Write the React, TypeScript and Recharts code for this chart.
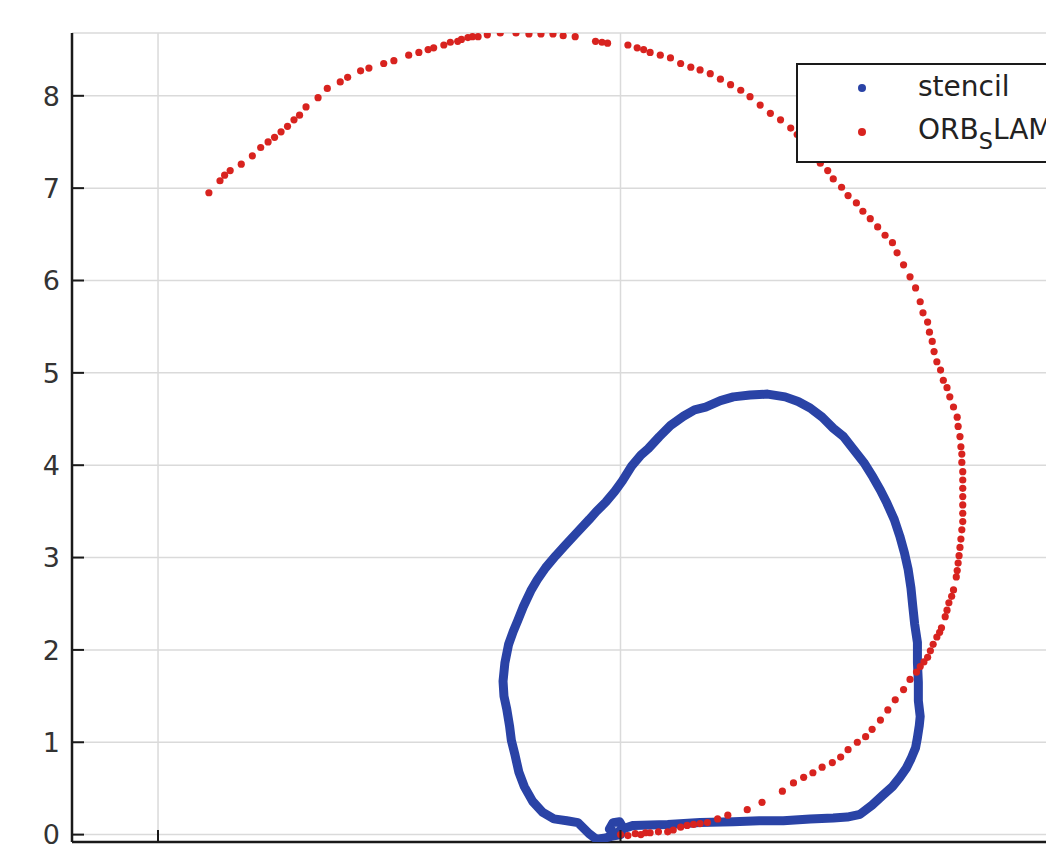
import { CartesianGrid, Scatter, ScatterChart, XAxis, YAxis } from "recharts";

const STENCIL_BLUE = "#2a43a6";
const ORB_RED = "#d8231f";
const FONT = "'DejaVu Sans', sans-serif";

const yTicks = [0, 1, 2, 3, 4, 5, 6, 7, 8];
const xTicks = [-5, 0, 5];

// stencil trajectory, drawn as one closed path in order
const stencilPath: [number, number][] = [
  [0.0, 0.0], [0.03, 0.07], [-0.01, 0.14], [-0.08, 0.13], [-0.12, 0.06], [-0.07, 0.0],
  [0.02, 0.06], [0.14, 0.1], [0.51, 0.11], [0.86, 0.13], [1.22, 0.14], [1.5, 0.15],
  [1.76, 0.15], [2.05, 0.17], [2.3, 0.18], [2.45, 0.19], [2.59, 0.22], [2.72, 0.32],
  [2.84, 0.43], [2.94, 0.52], [3.02, 0.62], [3.09, 0.72], [3.14, 0.82], [3.19, 0.94],
  [3.21, 1.05], [3.23, 1.18], [3.24, 1.28], [3.22, 1.45], [3.22, 1.65], [3.21, 1.86],
  [3.21, 2.08], [3.18, 2.28], [3.16, 2.47], [3.14, 2.67], [3.11, 2.87], [3.07, 3.05],
  [3.02, 3.23], [2.96, 3.41], [2.88, 3.59], [2.81, 3.73], [2.73, 3.87], [2.63, 4.03],
  [2.52, 4.17], [2.41, 4.31], [2.3, 4.4], [2.18, 4.52], [2.05, 4.62], [1.92, 4.69],
  [1.78, 4.74], [1.59, 4.77], [1.4, 4.76], [1.22, 4.74], [1.08, 4.7], [0.92, 4.63],
  [0.8, 4.6], [0.68, 4.53], [0.54, 4.43], [0.42, 4.31], [0.3, 4.18], [0.22, 4.11],
  [0.12, 3.99], [0.02, 3.83], [-0.06, 3.72], [-0.16, 3.6], [-0.26, 3.5], [-0.34, 3.41],
  [-0.49, 3.25], [-0.6, 3.13], [-0.7, 3.02], [-0.81, 2.89], [-0.9, 2.76], [-0.97, 2.64],
  [-1.05, 2.47], [-1.11, 2.32], [-1.16, 2.2], [-1.21, 2.06], [-1.25, 1.86], [-1.27, 1.66],
  [-1.26, 1.5], [-1.23, 1.36], [-1.2, 1.18], [-1.18, 1.02], [-1.14, 0.86], [-1.1, 0.68],
  [-1.04, 0.52], [-0.95, 0.36], [-0.84, 0.24], [-0.72, 0.17], [-0.58, 0.15], [-0.46, 0.13],
  [-0.4, 0.07], [-0.34, 0.01], [-0.26, -0.05], [-0.18, -0.04], [-0.1, -0.02], [0.0, 0.0],
];

// ORB_SLAM positions, one dot each
const orbSlamPoints: [number, number][] = [
  [0.0, 0.0], [0.08, -0.01], [0.16, 0.01], [0.22, 0.0], [0.27, 0.02], [0.32, 0.02],
  [0.41, 0.03], [0.51, 0.03], [0.57, 0.05], [0.65, 0.08], [0.72, 0.1], [0.79, 0.11],
  [0.86, 0.12], [0.94, 0.13], [1.05, 0.17], [1.16, 0.21], [1.37, 0.27], [1.53, 0.35],
  [1.75, 0.47], [1.87, 0.56], [1.98, 0.62], [2.08, 0.67], [2.18, 0.73], [2.29, 0.78],
  [2.38, 0.84], [2.46, 0.92], [2.56, 1.0], [2.65, 1.06], [2.72, 1.14], [2.81, 1.24],
  [2.89, 1.35], [2.97, 1.46], [3.06, 1.57], [3.13, 1.68], [3.2, 1.76], [3.24, 1.82],
  [3.28, 1.87], [3.32, 1.92], [3.35, 1.99], [3.38, 2.06], [3.42, 2.14], [3.45, 2.19],
  [3.47, 2.24], [3.51, 2.36], [3.53, 2.43], [3.55, 2.51], [3.58, 2.58], [3.6, 2.65],
  [3.63, 2.79], [3.64, 2.86], [3.65, 2.94], [3.66, 3.02], [3.67, 3.11], [3.68, 3.2],
  [3.69, 3.3], [3.7, 3.39], [3.7, 3.48], [3.7, 3.57], [3.7, 3.66], [3.7, 3.75],
  [3.7, 3.84], [3.7, 3.93], [3.69, 4.03], [3.69, 4.12], [3.68, 4.2], [3.67, 4.31],
  [3.65, 4.42], [3.64, 4.52], [3.6, 4.63], [3.56, 4.74], [3.53, 4.84], [3.49, 4.92],
  [3.46, 5.03], [3.42, 5.12], [3.39, 5.23], [3.37, 5.34], [3.34, 5.44], [3.32, 5.55],
  [3.27, 5.65], [3.24, 5.77], [3.19, 5.92], [3.13, 6.04], [3.06, 6.17], [2.99, 6.3],
  [2.94, 6.41], [2.86, 6.49], [2.78, 6.58], [2.7, 6.67], [2.62, 6.75], [2.55, 6.84],
  [2.46, 6.92], [2.39, 7.01], [2.3, 7.1], [2.24, 7.19], [2.16, 7.27], [2.07, 7.37],
  [2.0, 7.47], [1.91, 7.58], [1.84, 7.65], [1.73, 7.74], [1.62, 7.81], [1.51, 7.9],
  [1.4, 7.99], [1.3, 8.06], [1.19, 8.12], [1.08, 8.18], [0.97, 8.24], [0.86, 8.28],
  [0.76, 8.31], [0.65, 8.35], [0.54, 8.41], [0.43, 8.44], [0.32, 8.47], [0.25, 8.5],
  [0.18, 8.52], [0.08, 8.55], [-0.14, 8.57], [-0.2, 8.58], [-0.27, 8.59],
  [-0.49, 8.64], [-0.62, 8.65], [-0.73, 8.67], [-0.86, 8.67], [-0.99, 8.67], [-1.13, 8.68],
  [-1.3, 8.68], [-1.44, 8.66], [-1.54, 8.64], [-1.6, 8.64], [-1.65, 8.63], [-1.72, 8.61],
  [-1.76, 8.59], [-1.84, 8.58], [-1.91, 8.55], [-2.02, 8.52], [-2.08, 8.5], [-2.18, 8.47],
  [-2.29, 8.44], [-2.45, 8.38], [-2.56, 8.35], [-2.72, 8.3], [-2.81, 8.27], [-2.95, 8.2],
  [-3.03, 8.15], [-3.17, 8.08], [-3.27, 7.98], [-3.4, 7.88], [-3.47, 7.79], [-3.53, 7.74],
  [-3.6, 7.67], [-3.67, 7.61], [-3.74, 7.55], [-3.81, 7.5], [-3.89, 7.44], [-3.98, 7.35],
  [-4.1, 7.26], [-4.22, 7.19], [-4.28, 7.14], [-4.33, 7.08], [-4.45, 6.95],
];

const stencilData = stencilPath.map(([x, y]) => ({ x, y }));
const orbSlamData = orbSlamPoints.map(([x, y]) => ({ x, y }));

const NoMarker = () => <g />;

function OrbDot({ cx, cy }: any) {
  return <circle cx={cx} cy={cy} r={3.6} fill={ORB_RED} />;
}

function YTick({ x, y, payload }: any) {
  return (
    <g>
      <line x1={x + 12} x2={x + 24} y1={y} y2={y} stroke="#1a1a1a" strokeWidth={2} />
      <text x={x} y={y} dy="0.36em" textAnchor="end" fontSize={27} fontFamily={FONT} fill="#333">
        {payload.value}
      </text>
    </g>
  );
}

// x labels sit below the visible area in the reference, so only the tick marks are drawn
function XTick({ x, y }: any) {
  return <line x1={x} x2={x} y1={y - 12} y2={y - 24} stroke="#1a1a1a" strokeWidth={2} />;
}

function LegendBox() {
  const dot = (color: string, top: number) => (
    <span
      style={{
        position: "absolute",
        left: 60,
        top,
        width: 8,
        height: 8,
        borderRadius: "50%",
        background: color,
      }}
    />
  );
  return (
    <div
      style={{
        position: "absolute",
        left: 796,
        top: 63,
        width: 320,
        height: 100,
        boxSizing: "border-box",
        border: "2.5px solid #1a1a1a",
        background: "#fff",
        fontFamily: FONT,
        fontSize: 28,
        color: "#222",
      }}
    >
      {dot(STENCIL_BLUE, 19)}
      <span style={{ position: "absolute", left: 120, top: 6, lineHeight: "32px" }}>stencil</span>
      {dot(ORB_RED, 63)}
      <span style={{ position: "absolute", left: 120, top: 49, lineHeight: "32px", whiteSpace: "nowrap" }}>
        ORB
        <sub style={{ fontSize: "0.8em", verticalAlign: "-0.45em", lineHeight: 0 }}>S</sub>
        LAM
      </span>
    </div>
  );
}

export default function App() {
  return (
    <div
      style={{
        position: "fixed",
        left: 0,
        top: 0,
        width: 1046,
        height: 851,
        overflow: "hidden",
        background: "#fff",
      }}
    >
      <ScatterChart width={1100} height={900} margin={{ top: 33, right: 17, bottom: 18, left: 0 }}>
        <CartesianGrid stroke="#dadada" strokeWidth={1.5} />
        <XAxis
          type="number"
          dataKey="x"
          domain={[-5.93, 5]}
          ticks={xTicks}
          height={40}
          tickSize={0}
          tickMargin={12}
          tickLine={false}
          tick={<XTick />}
          axisLine={{ stroke: "#1a1a1a", strokeWidth: 2.5 }}
          allowDataOverflow
        />
        <YAxis
          type="number"
          dataKey="y"
          domain={[-0.08, 8.68]}
          ticks={yTicks}
          width={72}
          tickSize={0}
          tickMargin={12}
          tickLine={false}
          tick={<YTick />}
          axisLine={{ stroke: "#1a1a1a", strokeWidth: 2.5 }}
          allowDataOverflow
        />
        <Scatter
          name="stencil"
          data={stencilData}
          fill={STENCIL_BLUE}
          shape={NoMarker}
          line={{ stroke: STENCIL_BLUE, strokeWidth: 9, strokeLinejoin: "round", strokeLinecap: "round" }}
          lineJointType="linear"
          isAnimationActive={false}
        />
        <Scatter name="ORB_SLAM" data={orbSlamData} fill={ORB_RED} shape={OrbDot} isAnimationActive={false} />
      </ScatterChart>
      <LegendBox />
    </div>
  );
}
